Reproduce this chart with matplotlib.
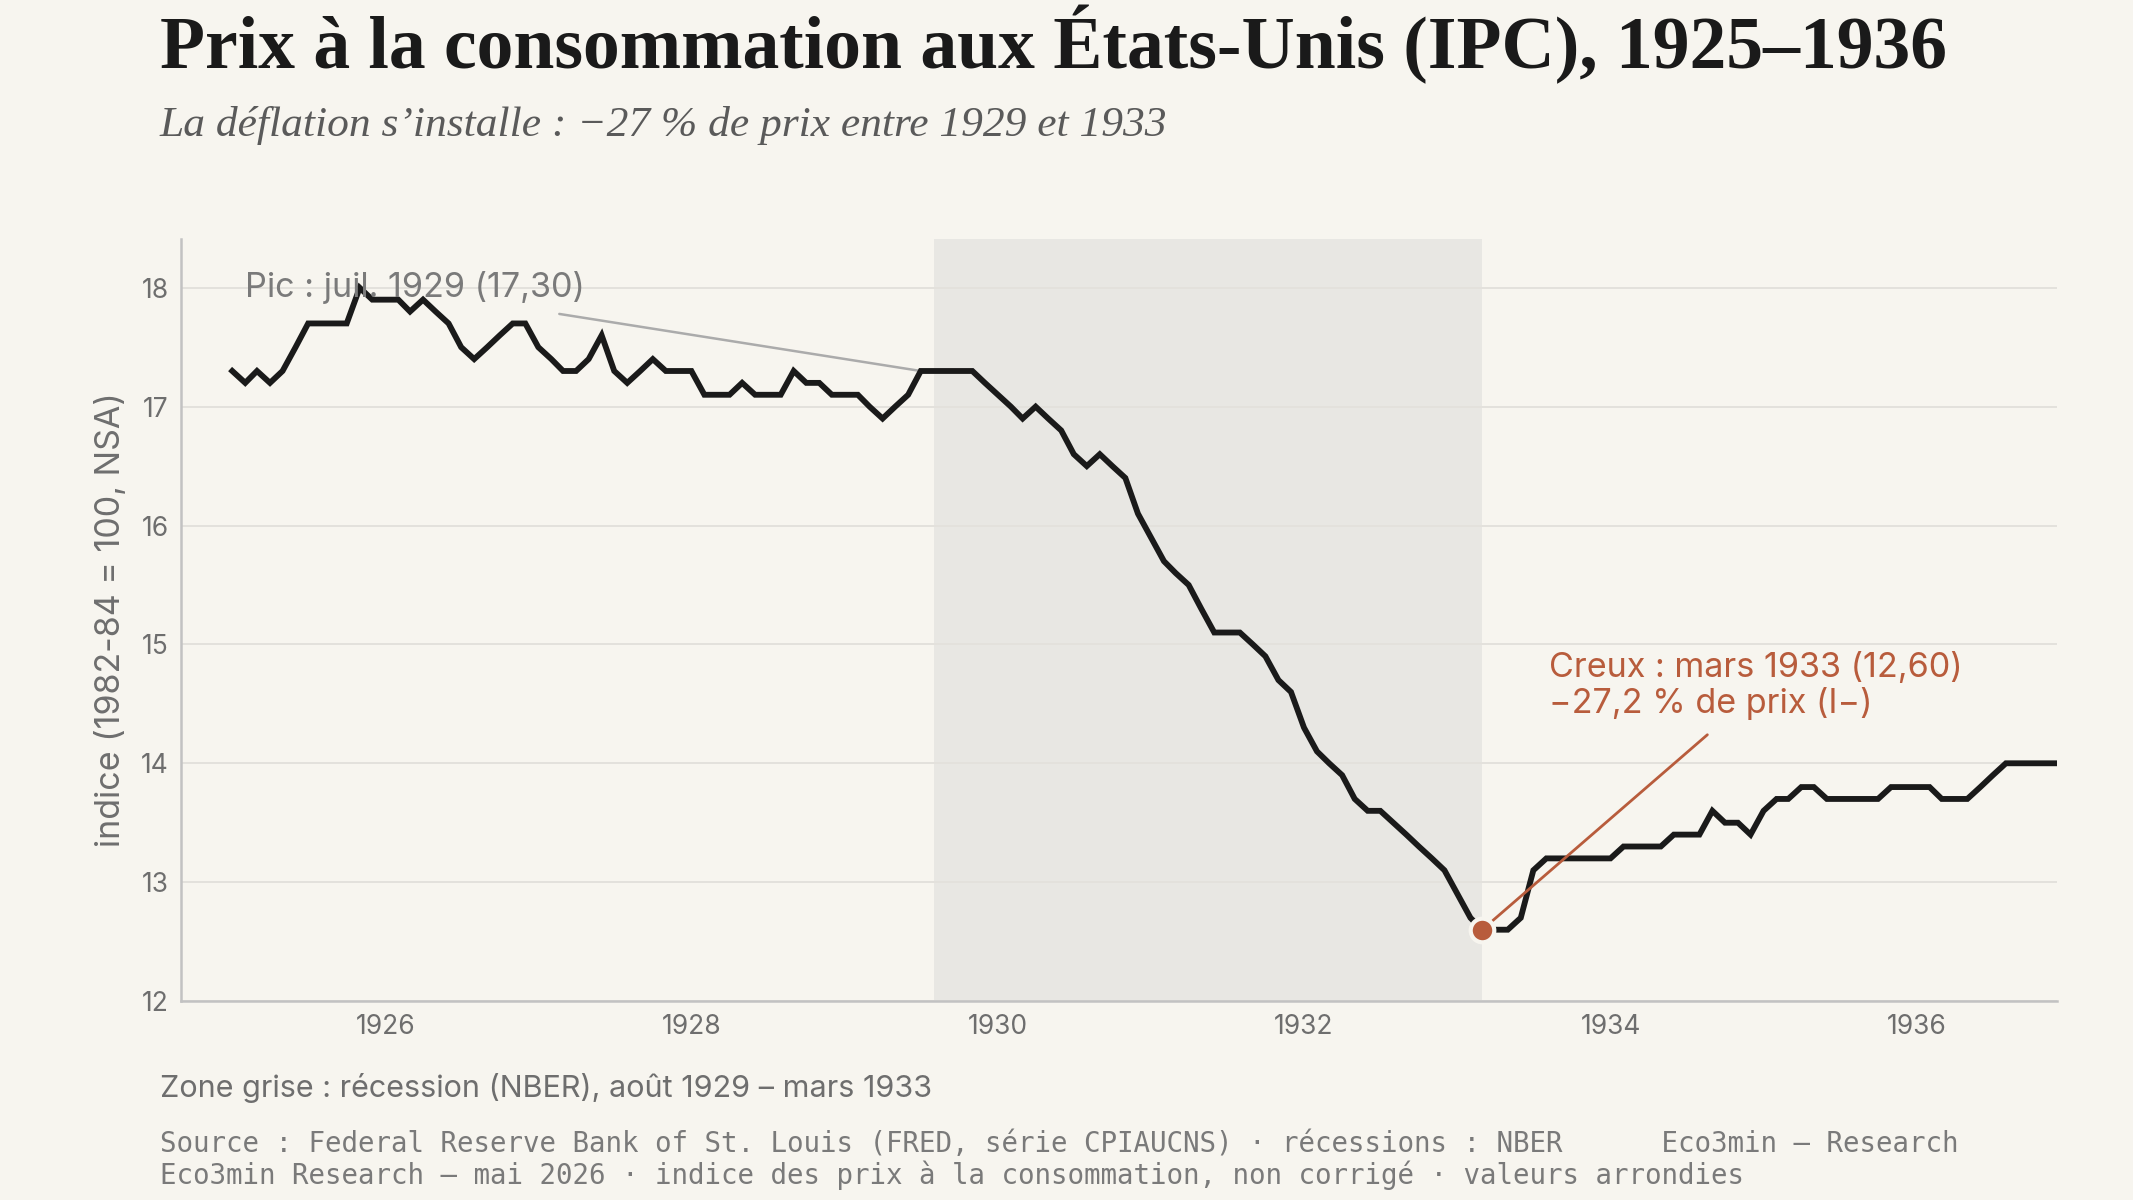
import numpy as np
import pandas as pd
import matplotlib

matplotlib.use("Agg")
import matplotlib.pyplot as plt
import matplotlib.dates as mdates

BG, SHADE, GRID = "#F7F5EF", "#E8E7E3", "#E3E1DC"
INK, MUTED, RUST = "#1A1A1A", "#6E6E6E", "#B85C3C"

# CPIAUCNS, monthly, Jan 1925 - Dec 1936 (1982-84 = 100)
cpi_1925 = [17.3, 17.2, 17.3, 17.2, 17.3, 17.5, 17.7, 17.7, 17.7, 17.7, 18.0, 17.9]
cpi_1926 = [17.9, 17.9, 17.8, 17.9, 17.8, 17.7, 17.5, 17.4, 17.5, 17.6, 17.7, 17.7]
cpi_1927 = [17.5, 17.4, 17.3, 17.3, 17.4, 17.6, 17.3, 17.2, 17.3, 17.4, 17.3, 17.3]
cpi_1928 = [17.3, 17.1, 17.1, 17.1, 17.2, 17.1, 17.1, 17.1, 17.3, 17.2, 17.2, 17.1]
cpi_1929 = [17.1, 17.1, 17.0, 16.9, 17.0, 17.1, 17.3, 17.3, 17.3, 17.3, 17.3, 17.2]
cpi_1930 = [17.1, 17.0, 16.9, 17.0, 16.9, 16.8, 16.6, 16.5, 16.6, 16.5, 16.4, 16.1]
cpi_1931 = [15.9, 15.7, 15.6, 15.5, 15.3, 15.1, 15.1, 15.1, 15.0, 14.9, 14.7, 14.6]
cpi_1932 = [14.3, 14.1, 14.0, 13.9, 13.7, 13.6, 13.6, 13.5, 13.4, 13.3, 13.2, 13.1]
cpi_1933 = [12.9, 12.7, 12.6, 12.6, 12.6, 12.7, 13.1, 13.2, 13.2, 13.2, 13.2, 13.2]
cpi_1934 = [13.2, 13.3, 13.3, 13.3, 13.3, 13.4, 13.4, 13.4, 13.6, 13.5, 13.5, 13.4]
cpi_1935 = [13.6, 13.7, 13.7, 13.8, 13.8, 13.7, 13.7, 13.7, 13.7, 13.7, 13.8, 13.8]
cpi_1936 = [13.8, 13.8, 13.7, 13.7, 13.7, 13.8, 13.9, 14.0, 14.0, 14.0, 14.0, 14.0]

cpi = (cpi_1925 + cpi_1926 + cpi_1927 + cpi_1928 + cpi_1929 + cpi_1930
       + cpi_1931 + cpi_1932 + cpi_1933 + cpi_1934 + cpi_1935 + cpi_1936)
months = pd.date_range("1925-01-01", periods=len(cpi), freq="MS")

recession = ("1929-08-01", "1933-03-01")
peak = ("1929-07-01", 17.3)
trough = ("1933-03-01", 12.6)
year_ticks = [1926, 1928, 1930, 1932, 1934, 1936]
y_ticks = [12, 13, 14, 15, 16, 17, 18]

plt.rcParams["font.family"] = ["Inter", "DejaVu Sans"]

fig = plt.figure(figsize=(21.33, 12), dpi=100, facecolor=BG)
ax = fig.add_axes([0.0849, 0.1658, 0.8795, 0.635], facecolor=BG)

ax.axvspan(pd.Timestamp(recession[0]), pd.Timestamp(recession[1]),
           color=SHADE, lw=0, zorder=0)
ax.set_yticks(y_ticks)
ax.grid(axis="y", color=GRID, lw=1.4, zorder=1)
ax.set_axisbelow(True)

ax.plot(months, cpi, color=INK, lw=4.2, solid_joinstyle="miter", zorder=3)

# peak annotation
ax.text(pd.Timestamp("1925-02-01"), 18.0, "Pic : juil. 1929 (17,30)",
        fontsize=24.6, color="#7A7A7A", ha="left", va="center", zorder=4)
ax.annotate("", xy=(pd.Timestamp(peak[0]), peak[1]),
            xytext=(pd.Timestamp("1927-02-20"), 17.78),
            arrowprops=dict(arrowstyle="-", color="#ABABAB", lw=1.8,
                            shrinkA=0, shrinkB=0), zorder=2)

# trough annotation
tx = pd.Timestamp(trough[0])
ax.plot([tx], [trough[1]], "o", ms=17, color=RUST, mec=BG, mew=3, zorder=5)
ax.text(pd.Timestamp("1933-08-07"), 14.65,
        "Creux : mars 1933 (12,60)\n\u221227,2 % de prix (I\u2212)",
        fontsize=24.6, color=RUST, ha="left", va="center", linespacing=1.12,
        zorder=4)
ax.annotate("", xy=(tx, trough[1]),
            xytext=(pd.Timestamp("1934-08-20"), 14.24),
            arrowprops=dict(arrowstyle="-", color=RUST, lw=2.0,
                            shrinkA=0, shrinkB=10), zorder=4)

ax.set_xlim(pd.Timestamp("1924-09-01"), pd.Timestamp("1936-12-01"))
ax.set_ylim(12, 18.41)
ax.set_xticks([pd.Timestamp(f"{y}-01-01") for y in year_ticks])
ax.xaxis.set_major_formatter(mdates.DateFormatter("%Y"))
ax.tick_params(length=0, labelsize=19, colors=MUTED, pad=9)
ax.set_ylabel("indice (1982-84 = 100, NSA)", fontsize=24.5, color=MUTED,
              labelpad=10)
for side in ("top", "right"):
    ax.spines[side].set_visible(False)
for side in ("left", "bottom"):
    ax.spines[side].set_color("#C2C2C2")
    ax.spines[side].set_linewidth(1.8)

fig.text(0.075, 0.943, "Prix à la consommation aux États-Unis (IPC), 1925\u20131936",
         family="Liberation Serif", weight="bold", fontsize=53, color=INK,
         ha="left", va="baseline")
fig.text(0.075, 0.887,
         "La déflation s\u2019installe : \u221227 % de prix entre 1929 et 1933",
         family="Liberation Serif", style="italic", fontsize=31.3, color="#5A5A5A",
         ha="left", va="baseline")

fig.text(0.075, 0.0935, "Zone grise : récession (NBER), août 1929 \u2013 mars 1933",
         fontsize=22, color=MUTED, ha="left", va="center")
fig.text(0.075, 0.047,
         "Source : Federal Reserve Bank of St. Louis (FRED, série CPIAUCNS) "
         "\u00b7 récessions : NBER      Eco3min \u2014 Research",
         family="DejaVu Sans Mono", fontsize=19.85, color="#7A7A7A",
         ha="left", va="center")
fig.text(0.075, 0.021,
         "Eco3min Research \u2014 mai 2026 \u00b7 indice des prix à la "
         "consommation, non corrigé \u00b7 valeurs arrondies",
         family="DejaVu Sans Mono", fontsize=19.85, color="#7A7A7A",
         ha="left", va="center")

fig.savefig("out.png", dpi=100, facecolor=BG)
